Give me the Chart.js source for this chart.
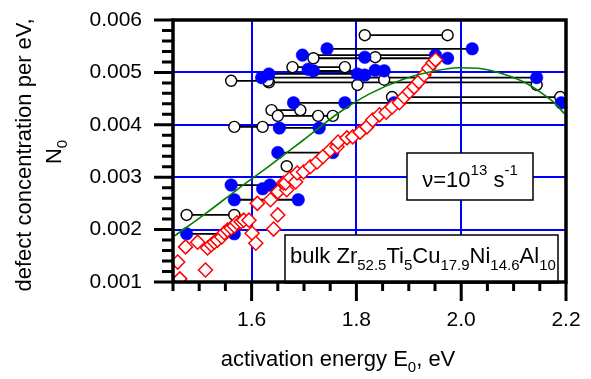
<!DOCTYPE html>
<html>
<head>
<meta charset="utf-8">
<script src="https://cdn.jsdelivr.net/npm/chart.js@4.4.0/dist/chart.umd.min.js"></script>
<style>
  html, body { margin: 0; padding: 0; background: #fff; }
  #wrap { width: 591px; height: 379px; }
</style>
</head>
<body>
<div id="wrap"><canvas id="chart" width="591" height="379"></canvas></div>
<script>
// axis ticks
const xMajor = [1.6, 1.8, 2.0, 2.2];
const xMinor = [1.45, 1.5, 1.55, 1.65, 1.7, 1.75, 1.85, 1.9, 1.95, 2.05, 2.1, 2.15];
const yMajor = [0.001, 0.002, 0.003, 0.004, 0.005, 0.006];
const yMinor = [0.0012, 0.0014, 0.0016, 0.0018, 0.0022, 0.0024, 0.0026, 0.0028,
                0.0032, 0.0034, 0.0036, 0.0038, 0.0042, 0.0044, 0.0046, 0.0048,
                0.0052, 0.0054, 0.0056, 0.0058];

// horizontal bars joining the two estimates of one defect (E start, E end, N)
const segStart = [1.816, 1.744, 1.697, 1.718, 1.816, 1.678, 1.718, 1.633, 1.619, 1.633, 1.561,
                  1.868, 1.680, 1.638, 1.650, 1.567, 1.653, 1.650, 1.561, 1.567, 1.476, 1.476];
const segEnd   = [1.974, 2.021, 1.951, 1.974, 1.836, 1.778, 1.853, 1.802, 2.144, 2.144, 1.631,
                  2.189, 2.191, 1.693, 1.755, 1.621, 1.729, 1.755, 1.635, 1.689, 1.567, 1.567];
const segN     = [0.00571, 0.00545, 0.00533, 0.00527, 0.00529, 0.00510, 0.00503, 0.00497, 0.00490, 0.00481, 0.00484,
                  0.00453, 0.00442, 0.00428, 0.00417, 0.00396, 0.00394, 0.00347, 0.00285, 0.00257, 0.00228, 0.00192];

// open circles
const openE = [1.816, 1.974, 1.718, 1.836, 1.678, 1.778, 1.633, 2.144, 1.561, 1.631, 1.802, 1.853,
               1.868, 2.189, 1.638, 1.693, 1.650, 1.727, 1.755, 1.567, 1.621, 1.667, 1.476, 1.567];
const openN = [0.00571, 0.00571, 0.00527, 0.00529, 0.00510, 0.00510, 0.00481, 0.00476, 0.00484, 0.00484, 0.00476, 0.00486,
               0.00453, 0.00453, 0.00428, 0.00428, 0.00417, 0.00417, 0.00417, 0.00396, 0.00396, 0.00321, 0.00228, 0.00228];

// filled circles
const filledE = [1.744, 2.021, 1.697, 1.951, 1.974, 1.816, 1.718, 1.708, 1.853, 1.836, 1.633, 1.802, 1.816,
                 1.619, 2.144, 1.680, 1.778, 1.872, 2.191, 1.653, 1.729, 1.650, 1.755, 1.561, 1.635,
                 1.621, 1.648, 1.567, 1.689, 1.476, 1.567];
const filledN = [0.00545, 0.00545, 0.00533, 0.00533, 0.00527, 0.00529, 0.00503, 0.00506, 0.00503, 0.00504, 0.00497, 0.00497, 0.00495,
                 0.00490, 0.00490, 0.00442, 0.00442, 0.00442, 0.00442, 0.00394, 0.00394, 0.00347, 0.00347, 0.00285, 0.00285,
                 0.00278, 0.00276, 0.00257, 0.00257, 0.00192, 0.00192];

// red diamonds
const diaE = [1.459, 1.463, 1.474, 1.497, 1.512,
              1.516, 1.523, 1.529, 1.535, 1.543, 1.548, 1.554, 1.561, 1.567, 1.572, 1.580, 1.585, 1.595,
              1.601, 1.608, 1.642, 1.650, 1.611, 1.636, 1.650, 1.667, 1.661,
              1.665, 1.674, 1.684, 1.687, 1.699, 1.712, 1.725, 1.736, 1.750, 1.763, 1.765, 1.782, 1.793,
              1.807, 1.820, 1.831, 1.844, 1.857, 1.868, 1.882, 1.891, 1.901, 1.910, 1.919, 1.929, 1.938, 1.946, 1.951];
const diaN = [0.00138, 0.00106, 0.00167, 0.00176, 0.00123,
              0.00165, 0.00171, 0.00176, 0.00180, 0.00186, 0.00194, 0.00199, 0.00203, 0.00207, 0.00213, 0.00215, 0.00218, 0.00218,
              0.00193, 0.00174, 0.00201, 0.00228, 0.00250, 0.00257, 0.00272, 0.00276, 0.00289,
              0.00289, 0.00299, 0.00291, 0.00308, 0.00310, 0.00320, 0.00329, 0.00339, 0.00352, 0.00358, 0.00367, 0.00375, 0.00377,
              0.00386, 0.00396, 0.00409, 0.00419, 0.00424, 0.00434, 0.00442, 0.00453, 0.00463, 0.00472, 0.00482, 0.00495, 0.00508, 0.00518, 0.00524];

// green fit curve
const curveE = [1.453, 1.514, 1.572, 1.636, 1.699, 1.768, 1.825, 1.887, 1.951, 1.994, 2.032, 2.080, 2.127, 2.161, 2.180, 2.197];
const curveN = [0.00188, 0.00232, 0.00276, 0.00323, 0.00371, 0.00424, 0.00459, 0.00486, 0.00503, 0.00509, 0.00508, 0.00497, 0.00478, 0.00455, 0.00440, 0.00421];

const FONT = '"Liberation Sans", Arial, sans-serif';

// rich text runs: [text, font size, baseline shift]
const nuText = [['\u03bd=10', 22, 0], ['13', 15, -12], [' s', 22, 0], ['-1', 15, -12]];
const alloyText = [['bulk Zr', 22, 0], ['52.5', 15, 7], ['Ti', 22, 0], ['5', 15, 7], ['Cu', 22, 0], ['17.9', 15, 7],
                   ['Ni', 22, 0], ['14.6', 15, 7], ['Al', 22, 0], ['10', 15, 7]];
const xTitle = [['activation energy E', 22, 0], ['0', 15, 6], [', eV', 22, 0]];
const yTitle1 = [['defect concentration per eV,', 22, 0]];
const yTitle2 = [['N', 22, 0], ['0', 15, 6]];

function runsWidth(ctx, runs) {
  let w = 0;
  runs.forEach(([t, size]) => { ctx.font = size + 'px ' + FONT; w += ctx.measureText(t).width; });
  return w;
}
function drawRuns(ctx, runs, x, y) {
  runs.forEach(([t, size, dy]) => {
    ctx.font = size + 'px ' + FONT;
    ctx.fillText(t, x, y + dy);
    x += ctx.measureText(t).width;
  });
}

const segData = [];
segStart.forEach((e, i) => {
  segData.push({ x: e, y: segN[i] }, { x: segEnd[i], y: segN[i] }, { x: segEnd[i], y: null });
});
const pts = (xs, ys) => xs.map((v, i) => ({ x: v, y: ys[i] }));

const decorations = {
  id: 'decorations',
  afterDatasetsDraw(chart) {
    const ctx = chart.ctx;
    ctx.save();
    ctx.fillStyle = '#fff';
    ctx.strokeStyle = '#000';
    ctx.lineWidth = 1.5;
    ctx.fillRect(407, 153, 126, 47);
    ctx.strokeRect(407, 153, 126, 47);
    ctx.fillRect(285, 235, 273, 48);
    ctx.strokeRect(285, 235, 273, 48);
    ctx.fillStyle = '#000';
    ctx.textAlign = 'left';
    ctx.textBaseline = 'alphabetic';
    drawRuns(ctx, nuText, 470 - runsWidth(ctx, nuText) / 2, 187);
    drawRuns(ctx, alloyText, 290, 263);
    ctx.restore();
  },
  afterDraw(chart) {
    const { ctx, chartArea: a, scales: { x, y } } = chart;
    ctx.save();
    ctx.strokeStyle = '#000';
    ctx.lineWidth = 3;
    ctx.beginPath();
    xMinor.forEach(v => { const p = x.getPixelForValue(v); ctx.moveTo(p, a.bottom); ctx.lineTo(p, a.bottom + 9); });
    xMajor.forEach(v => { const p = x.getPixelForValue(v); ctx.moveTo(p, a.bottom); ctx.lineTo(p, a.bottom + 19); });
    yMinor.forEach(v => { const p = y.getPixelForValue(v); ctx.moveTo(a.left, p); ctx.lineTo(a.left - 11, p); });
    yMajor.forEach(v => { const p = y.getPixelForValue(v); ctx.moveTo(a.left, p); ctx.lineTo(a.left - 19, p); });
    ctx.stroke();
    ctx.lineWidth = 3.5;
    ctx.strokeRect(a.left, a.top, a.right - a.left, a.bottom - a.top);

    // axis titles
    ctx.fillStyle = '#000';
    ctx.textAlign = 'left';
    ctx.textBaseline = 'alphabetic';
    drawRuns(ctx, xTitle, 338 - runsWidth(ctx, xTitle) / 2, 366);
    ctx.save();
    ctx.translate(31, 155);
    ctx.rotate(-Math.PI / 2);
    drawRuns(ctx, yTitle1, -runsWidth(ctx, yTitle1) / 2, 0);
    ctx.restore();
    ctx.save();
    ctx.translate(61, 152);
    ctx.rotate(-Math.PI / 2);
    drawRuns(ctx, yTitle2, -runsWidth(ctx, yTitle2) / 2, 0);
    ctx.restore();
    ctx.restore();
  }
};

new Chart(document.getElementById('chart'), {
  type: 'scatter',
  data: {
    datasets: [
      {
        label: 'fit',
        data: pts(curveE, curveN),
        showLine: true,
        borderColor: '#008000',
        borderWidth: 1.6,
        pointRadius: 0,
        cubicInterpolationMode: 'monotone',
        fill: false
      },
      {
        label: 'diamonds',
        data: pts(diaE, diaN),
        pointStyle: 'rectRot',
        pointRadius: 7,
        borderColor: '#ff0000',
        backgroundColor: '#ffffff',
        borderWidth: 1.5,
        clip: 0
      },
      {
        label: 'filled',
        data: pts(filledE, filledN),
        pointStyle: 'circle',
        pointRadius: 6.3,
        borderColor: '#0000ff',
        backgroundColor: '#0000ff',
        borderWidth: 0.5,
        clip: 0
      },
      {
        label: 'open',
        data: pts(openE, openN),
        pointStyle: 'circle',
        pointRadius: 5.5,
        borderColor: '#000',
        backgroundColor: '#ffffff',
        borderWidth: 1.4,
        clip: 0
      },
      {
        label: 'bars',
        data: segData,
        showLine: true,
        spanGaps: false,
        borderColor: '#000',
        borderWidth: 1.8,
        pointRadius: 0
      }
    ]
  },
  options: {
    responsive: false,
    animation: false,
    devicePixelRatio: 1,
    layout: { padding: { left: 0, top: 20, right: 25, bottom: 0 } },
    plugins: { legend: { display: false }, tooltip: { enabled: false } },
    scales: {
      x: {
        type: 'linear',
        min: 1.45,
        max: 2.2,
        afterBuildTicks: s => { s.ticks = xMajor.map(v => ({ value: v })); },
        afterFit: s => { s.height = 97; s.paddingLeft = 0; s.paddingRight = 0; },
        border: { display: false },
        grid: { color: '#0000ff', lineWidth: 2, drawTicks: false },
        ticks: {
          autoSkip: false,
          maxRotation: 0,
          padding: 26,
          color: '#000',
          font: { family: FONT, size: 21 },
          callback: v => v.toFixed(1)
        }
      },
      y: {
        type: 'linear',
        min: 0.001,
        max: 0.006,
        afterBuildTicks: s => { s.ticks = yMajor.map(v => ({ value: v })); },
        afterFit: s => { s.width = 173; s.paddingTop = 0; s.paddingBottom = 0; },
        border: { display: false },
        grid: { color: '#0000ff', lineWidth: 2, drawTicks: false },
        ticks: {
          autoSkip: false,
          padding: 31,
          color: '#000',
          font: { family: FONT, size: 21 },
          callback: v => v.toFixed(3)
        }
      }
    }
  },
  plugins: [decorations]
});
</script>
</body>
</html>
